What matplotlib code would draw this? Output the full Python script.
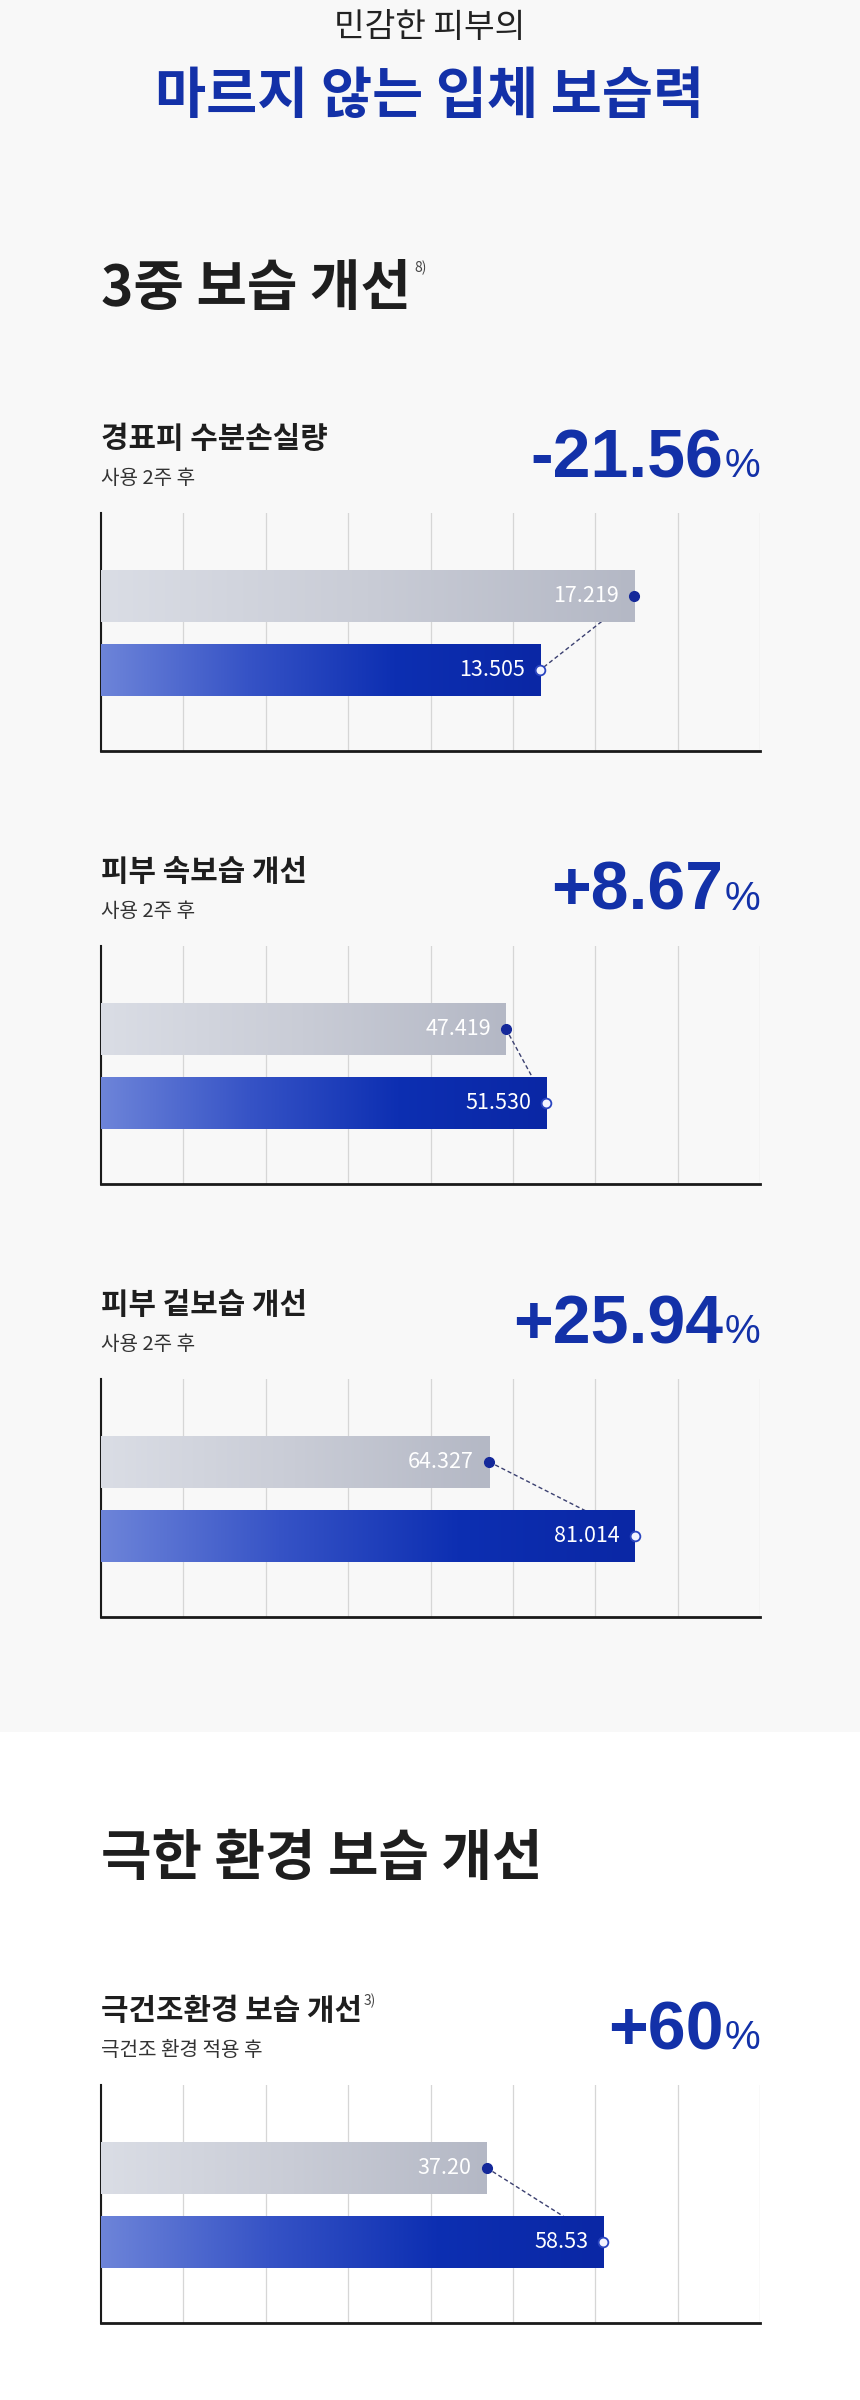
import numpy as np
import matplotlib
matplotlib.use('Agg')
import matplotlib.pyplot as plt
from matplotlib.colors import LinearSegmentedColormap

plt.rcParams['font.family'] = ['Noto Sans CJK KR', 'DejaVu Sans']

# ---------------- data ----------------
kicker = "민감한 피부의"
headline = "마르지 않는 입체 보습력"
section_titles = ["3중 보습 개선", "극한 환경 보습 개선"]
section_notes = ["8)", None]
panel_titles = ["경표피 수분손실량", "피부 속보습 개선", "피부 겉보습 개선", "극건조환경 보습 개선"]
panel_notes = [None, None, None, "3)"]
panel_subtitles = ["사용 2주 후", "사용 2주 후", "사용 2주 후", "극건조 환경 적용 후"]
panel_changes = ["-21.56", "+8.67", "+25.94", "+60"]
before_values = [17.219, 47.419, 64.327, 37.20]
after_values = [13.505, 51.530, 81.014, 58.53]
value_decimals = [3, 3, 3, 2]
axis_start = [-3.88, 6.1, 19.83, -33.2]
axis_end = [22.19, 73.35, 95.4, 87.1]

# ---------------- layout ----------------
W, H = 860, 2400
fig = plt.figure(figsize=(W / 100, H / 100), dpi=100)
fig.patch.set_facecolor('white')
renderer = fig.canvas.get_renderer()

def fxy(x, y):
    return x / W, 1 - y / H

# top light-gray section background
bg = fig.add_axes([0, 1 - 1732 / H, 1, 1732 / H])
bg.set_facecolor('#f8f8f8')
bg.set_xticks([]); bg.set_yticks([])
for s in bg.spines.values():
    s.set_visible(False)
bg.set_zorder(-10)

def T(x, y, s, **kw):
    return fig.text(*fxy(x, y), s, **kw)

DARK = '#1e1e1e'
BLUE = '#1331a8'
NUMFONT = ['Liberation Sans', 'DejaVu Sans']

T(430, 28, kicker, ha='center', va='center', fontsize=24, color='#222222')
T(430, 97, headline, ha='center', va='center', fontsize=40, fontweight='heavy', color=BLUE)

section_y = [289, 1859]
for title, note, y in zip(section_titles, section_notes, section_y):
    t = T(101, y, title, ha='left', va='center', fontsize=39.5, fontweight='bold', color=DARK)
    if note:
        bb = t.get_window_extent(renderer=renderer)
        T(bb.x1 + 3, y - 21, note, ha='left', va='center', fontsize=10, color='#444444')

panel_tops = [513, 946, 1379, 2085]
panel_h = 238
left, right = 101, 760

gray_cmap = LinearSegmentedColormap.from_list('g', ['#dadde5', '#c9ccd6', '#b4b8c5'])
blue_cmap = LinearSegmentedColormap.from_list('b', ['#6d84d9', '#3653c6', '#0d2fb2', '#0a27a5'])
grad = np.linspace(0, 1, 256).reshape(1, -1)

for k in range(4):
    top = panel_tops[k]
    # header
    t = T(left, top - 74, panel_titles[k], ha='left', va='center', fontsize=21.5,
          fontweight='bold', color=DARK)
    if panel_notes[k]:
        bb = t.get_window_extent(renderer=renderer)
        T(bb.x1 + 2, top - 84, panel_notes[k], ha='left', va='center', fontsize=10, color='#444444')
    T(left, top - 35, panel_subtitles[k], ha='left', va='center', fontsize=14.5, color='#333333')
    pct = T(right, top - 36, '%', ha='right', va='baseline', fontsize=29, color=BLUE,
            family=NUMFONT)
    pw = pct.get_window_extent(renderer=renderer).width
    T(right - pw - 1, top - 36, panel_changes[k], ha='right', va='baseline', fontsize=49,
      fontweight='bold', color=BLUE, family=NUMFONT)

    # chart
    ax = fig.add_axes([left / W, 1 - (top + panel_h) / H, (right - left) / W, panel_h / H])
    ax.set_facecolor('none')
    x0, x1 = axis_start[k], axis_end[k]
    vals = [before_values[k], after_values[k]]
    bh = 0.70
    for i, (v, cm) in enumerate(zip(vals, [gray_cmap, blue_cmap])):
        ax.imshow(grad, cmap=cm, extent=(x0, v, i + bh / 2, i - bh / 2), aspect='auto',
                  interpolation='bicubic', zorder=3)
    ax.plot(vals, [0, 1], color='#3b4070', lw=1.0, ls=(0, (3, 2)), zorder=2)
    ax.plot(vals[0], 0, 'o', ms=7, mfc='#14289a', mec='#14289a', zorder=6)
    ax.plot(vals[1], 1, 'o', ms=7, mfc='#f2f4ff', mec='#2a45c0', mew=1.3, zorder=6)
    for i, v in enumerate(vals):
        ax.annotate(f"{v:.{value_decimals[k]}f}", xy=(v, i), xytext=(-15, 0),
                    textcoords='offset pixels', ha='right', va='center', color='white',
                    fontsize=15.5, zorder=7)
    ax.set_xlim(x0, x1)
    ax.set_ylim(2.1, -1.12)
    ax.set_xticks(np.linspace(x0, x1, 9))
    ax.set_yticks([])
    ax.tick_params(length=0, labelbottom=False)
    ax.grid(axis='x', color='#d6d6d6', lw=0.9, zorder=0)
    ax.set_axisbelow(True)
    ax.spines['top'].set_visible(False)
    ax.spines['right'].set_visible(False)
    ax.spines['left'].set_color('#1a1a1a')
    ax.spines['left'].set_linewidth(1.5)
    ax.spines['bottom'].set_color('#1a1a1a')
    ax.spines['bottom'].set_linewidth(2.0)

fig.savefig('out.png', dpi=100, facecolor=fig.get_facecolor())
